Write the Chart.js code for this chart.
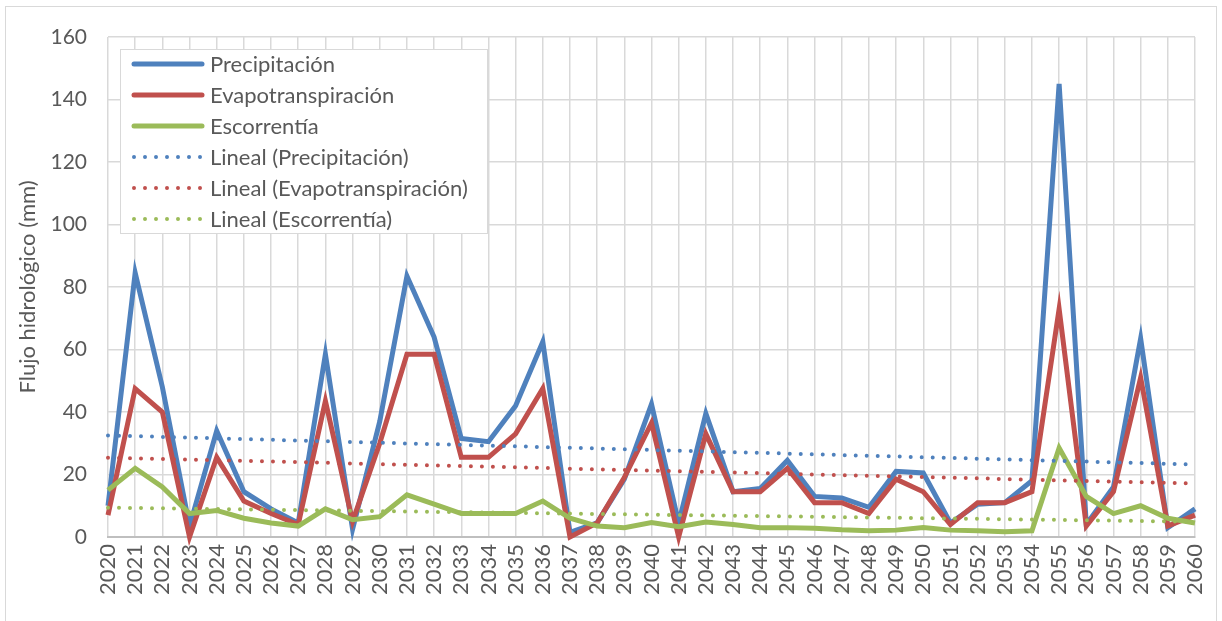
<!DOCTYPE html>
<html>
<head>
<meta charset="utf-8">
<script src="https://cdn.jsdelivr.net/npm/chart.js@4.4.0/dist/chart.umd.min.js"></script>
<style>
  html, body { margin: 0; padding: 0; background: #fff; }
</style>
</head>
<body>
<canvas id="flujoChart" width="1222" height="621"></canvas>
<script>
// years on the category axis
var years = ['2020','2021','2022','2023','2024','2025','2026','2027','2028','2029',
             '2030','2031','2032','2033','2034','2035','2036','2037','2038','2039',
             '2040','2041','2042','2043','2044','2045','2046','2047','2048','2049',
             '2050','2051','2052','2053','2054','2055','2056','2057','2058','2059','2060'];

// series (mm)
var precipitacion = [10, 84.5, 48, 3.5, 34, 14.5, 9, 4.5, 58.5, 2.5,
                     37, 83.5, 64, 31.5, 30.5, 42, 62.5, 1.5, 4.5, 18.5,
                     42.5, 4.5, 39.5, 14.5, 15.5, 24.5, 13, 12.5, 9.5, 21,
                     20.5, 4.5, 10.5, 11, 18, 145, 4, 16, 63.5, 3, 9];
var evapotranspiracion = [7, 47.5, 40, 0, 25.5, 11.5, 7.5, 4, 43.5, 5,
                          30, 58.5, 58.5, 25.5, 25.5, 33, 47.5, 0, 4.5, 19,
                          36.5, 0, 33, 14.5, 14.5, 22, 11, 11, 7.5, 18.5,
                          14.5, 4, 11, 11, 14.5, 73, 3.5, 14.5, 51, 3.5, 7];
var escorrentia = [15, 22, 16, 7.5, 8.5, 6, 4.5, 3.5, 9, 5.5,
                   6.5, 13.5, 10.5, 7.5, 7.5, 7.5, 11.5, 6, 3.5, 3,
                   4.6, 3.3, 4.8, 4, 3, 3, 2.8, 2.3, 2, 2.2,
                   3, 2.2, 2, 1.7, 2, 28.5, 13, 7.5, 10, 6, 4.5];

// linear trend lines: value at first and last year
var linealPrecip = [32.5, 23.2];
var linealEvapo = [25.4, 17.1];
var linealEscorr = [9.4, 4.9];

var yTicks = [0, 20, 40, 60, 80, 100, 120, 140, 160];

var FONT = "Lato, 'Open Sans', sans-serif";
var TXT = '#595959';
var BLUE = '#4f81bd', RED = '#c0504d', GREEN = '#9bbb59';

function trendData(ends) {
  return years.map(function (y, i) {
    if (i === 0) return ends[0];
    if (i === years.length - 1) return ends[1];
    return null;
  });
}

function solid(label, data, color, order) {
  return {
    label: label, data: data, borderColor: color, backgroundColor: color,
    borderWidth: 5, pointRadius: 0, tension: 0, order: order, clip: false,
    borderJoinStyle: 'miter'
  };
}

function dotted(label, ends, color, order) {
  return {
    label: label, data: trendData(ends), borderColor: color, backgroundColor: color,
    borderWidth: 4, borderDash: [0, 11], borderCapStyle: 'round',
    pointRadius: 0, spanGaps: true, order: order, clip: false
  };
}

// white background + thin frame round the whole chart
var framePlugin = {
  id: 'frame',
  beforeDraw: function (chart) {
    var c = chart.ctx;
    c.save();
    c.fillStyle = '#fff';
    c.fillRect(0, 0, chart.width, chart.height);
    c.strokeStyle = '#d9d9d9';
    c.lineWidth = 1;
    c.strokeRect(5.5, 6.5, chart.width - 11, chart.height);
    c.restore();
  }
};

// legend box inside the plot, Excel style
var boxLegend = {
  id: 'boxLegend',
  afterDraw: function (chart) {
    var c = chart.ctx;
    var x0 = 120, y0 = 49, w = 367, h = 184, row = 31;
    c.save();
    c.fillStyle = '#fff';
    c.fillRect(x0, y0, w, h);
    c.strokeStyle = '#d9d9d9';
    c.lineWidth = 1;
    c.strokeRect(x0 + 0.5, y0 + 0.5, w, h);
    chart.data.datasets.forEach(function (ds, i) {
      var y = y0 + 15 + i * row;
      c.beginPath();
      c.strokeStyle = ds.borderColor;
      c.lineWidth = ds.borderWidth;
      c.lineCap = 'round';
      c.setLineDash(ds.borderDash || []);
      c.moveTo(134, y);
      c.lineTo(202, y);
      c.stroke();
      c.setLineDash([]);
      c.fillStyle = TXT;
      c.font = '22px ' + FONT;
      c.textBaseline = 'middle';
      c.textAlign = 'left';
      c.fillText(ds.label, 210, y + 1);
    });
    c.restore();
  }
};

var ctx = document.getElementById('flujoChart').getContext('2d');
var chart = new Chart(ctx, {
  type: 'line',
  data: {
    labels: years,
    datasets: [
      solid('Precipitación', precipitacion, BLUE, 6),
      solid('Evapotranspiración', evapotranspiracion, RED, 5),
      solid('Escorrentía', escorrentia, GREEN, 4),
      dotted('Lineal (Precipitación)', linealPrecip, BLUE, 3),
      dotted('Lineal (Evapotranspiración)', linealEvapo, RED, 2),
      dotted('Lineal (Escorrentía)', linealEscorr, GREEN, 1)
    ]
  },
  options: {
    responsive: false,
    animation: false,
    devicePixelRatio: 1,
    layout: { padding: { top: 37, right: 27, left: 0, bottom: 0 } },
    plugins: {
      legend: { display: false },
      tooltip: { enabled: false }
    },
    scales: {
      x: {
        ticks: {
          autoSkip: false, minRotation: 90, maxRotation: 90,
          color: TXT, font: { family: FONT, size: 22 }, padding: 7
        },
        grid: { color: '#d9d9d9', lineWidth: 1.5, drawTicks: false },
        border: { color: '#bfbfbf', width: 2 },
        afterFit: function (s) {
          s.height = 84;
          s.paddingLeft = 0;
          s.paddingRight = 0;
        }
      },
      y: {
        min: 0, max: 160,
        afterBuildTicks: function (s) {
          s.ticks = yTicks.map(function (v) { return { value: v }; });
        },
        ticks: { color: TXT, font: { family: FONT, size: 21 }, padding: 21 },
        grid: { color: '#d9d9d9', lineWidth: 1.5, drawTicks: false },
        border: { display: false },
        title: {
          display: true, text: 'Flujo hidrológico (mm)', color: TXT,
          font: { family: FONT, size: 22 }, padding: { top: 15, bottom: 0 }
        },
        afterFit: function (s) { s.width = 108; }
      }
    }
  },
  plugins: [framePlugin, boxLegend]
});
</script>
</body>
</html>
